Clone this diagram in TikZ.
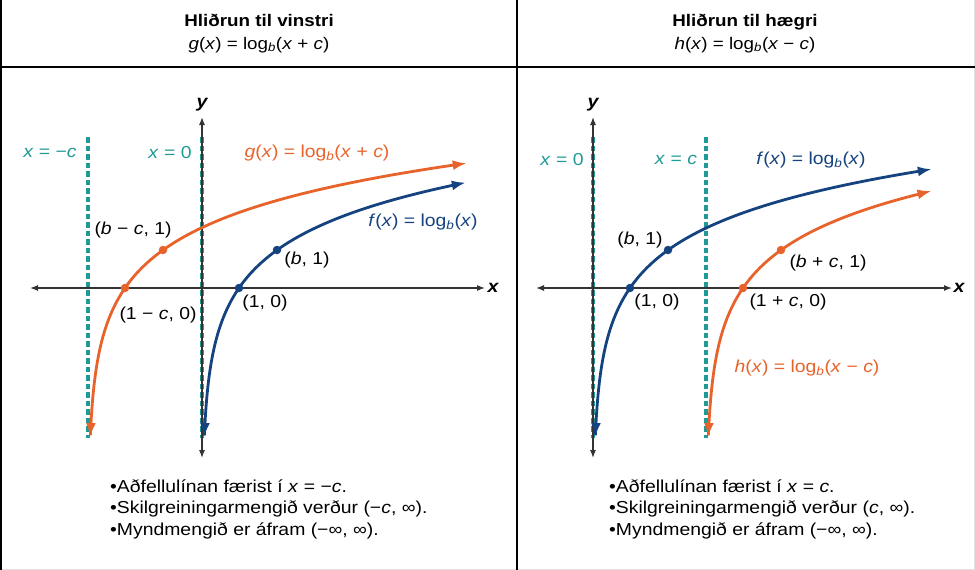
\documentclass[tikz,border=0pt]{standalone}
\usepackage{fontspec}
\setmainfont{Liberation Sans}[FakeStretch=1.12]
\usetikzlibrary{arrows.meta}
\definecolor{corange}{HTML}{E8632B}
\definecolor{cblue}{HTML}{15437F}
\definecolor{cteal}{HTML}{1F9A96}
\definecolor{caxis}{HTML}{333333}
\newcommand{\mi}[1]{\textit{#1}}
\begin{document}
\begin{tikzpicture}[x=1pt,y=-1pt,
  frame/.style={line width=2.4pt, draw=black},
  faint/.style={line width=1pt, draw=black!12},
  axisline/.style={line width=1.1pt, draw=caxis, {Latex[length=8pt,width=6pt]}-{Latex[length=8pt,width=6pt]}},
  asym/.style={line width=3.2pt, draw=cteal, dash pattern=on 5.5pt off 3pt},
  curveo/.style={line width=2.8pt, draw=corange, {Latex[length=14pt,width=10pt]}-{Latex[length=14pt,width=10pt]}},
  curveb/.style={line width=2.8pt, draw=cblue, {Latex[length=14pt,width=10pt]}-{Latex[length=14pt,width=10pt]}},
  dot/.style={circle, inner sep=0pt, minimum size=8.5pt},
  lbl/.style={font=\fontsize{17.3}{19}\selectfont, inner sep=0pt},
  ttl/.style={font=\fontsize{16.8}{20}\selectfont, inner sep=0pt, anchor=base},
  bul/.style={font=\fontsize{17.3}{21.5}\selectfont, align=left, anchor=base west, inner sep=0pt},
  axlbl/.style={font=\fontsize{17.5}{20}\selectfont\bfseries\itshape, inner sep=0pt}
]
\useasboundingbox (0,0) rectangle (975,570);
% frame
\coordinate (fl1) at (1.2,0); \coordinate (fl2) at (1.2,570);
\coordinate (fm1) at (517,0); \coordinate (fm2) at (517,570);
\coordinate (fh1) at (0,67); \coordinate (fh2) at (975,67);
\coordinate (fr1) at (974,0); \coordinate (fr2) at (974,569);
\coordinate (fb1) at (0,569); \coordinate (fb2) at (975,569);
\draw[faint] (fr1) -- (fr2);
\draw[faint] (fb1) -- (fb2);
\draw[frame] (fl1) -- (fl2);
\draw[frame] (fm1) -- (fm2);
\draw[frame] (fh1) -- (fh2);

% headers
\node[ttl] (hl1) at (259,27) {\bfseries Hliðrun til vinstri};
\node[ttl] (hl2) at (259,49) {\mi{g}(\mi{x}) = log\textsubscript{\mi{b}}(\mi{x} + \mi{c})};
\node[ttl] (hr1) at (745,27) {\bfseries Hliðrun til hægri};
\node[ttl] (hr2) at (745,49) {\mi{h}(\mi{x}) = log\textsubscript{\mi{b}}(\mi{x} − \mi{c})};

% ===== left panel =====
\coordinate (La1) at (88,137); \coordinate (La2) at (88,438);
\coordinate (Lb1) at (202,137); \coordinate (Lb2) at (202,438);
\draw[asym] (La1) -- (La2);
\draw[asym] (Lb1) -- (Lb2);
\coordinate (Lxl) at (30,288); \coordinate (Lxr) at (485,288);
\coordinate (Lyt) at (202,117); \coordinate (Lyb) at (202,458);
\draw[axisline] (Lxl) -- (Lxr);
\draw[axisline] (Lyb) -- (Lyt);
\node[axlbl] (Lylab) at (202,105) {y};
\node[axlbl] (Lxlab) at (493,288) {x};

\draw[curveo] plot[domain=-2.776:2.326, samples=150, variable=\t] ({88+37*exp(\t)},{288-53.67*\t});
\draw[curveb] plot[domain=-2.776:1.966, samples=150, variable=\t] ({202+37*exp(\t)},{288-53.67*\t});
\node[dot, fill=corange] (Lp1) at (125,288) {};
\node[dot, fill=corange] (Lp2) at (163,250) {};
\node[dot, fill=cblue] (Lp3) at (239,288) {};
\node[dot, fill=cblue] (Lp4) at (277,250) {};

\node[lbl, text=cteal] (Llc) at (50,153) {\mi{x} = −\mi{c}};
\node[lbl, text=cteal] (Ll0) at (170,153) {\mi{x} = 0};
\node[lbl, text=corange] (Llg) at (317,153) {\mi{g}(\mi{x}) = log\textsubscript{\mi{b}}(\mi{x} + \mi{c})};
\node[lbl, text=cblue] (Llf) at (423,222) {\mi{f}(\mi{x}) = log\textsubscript{\mi{b}}(\mi{x})};
\node[lbl] (Lt1) at (133,230) {(\mi{b} − \mi{c}, 1)};
\node[lbl] (Lt2) at (307,260) {(\mi{b}, 1)};
\node[lbl] (Lt3) at (158,315) {(1 − \mi{c}, 0)};
\node[lbl] (Lt4) at (265,303) {(1, 0)};

\node[bul] (Lbul) at (110,535) {•Aðfellulínan færist í \mi{x} = −\mi{c}.\\•Skilgreiningarmengið verður (−\mi{c}, ∞).\\•Myndmengið er áfram (−∞, ∞).};

% ===== right panel =====
\coordinate (Ra1) at (593,137); \coordinate (Ra2) at (593,438);
\coordinate (Rb1) at (706,137); \coordinate (Rb2) at (706,438);
\draw[asym] (Ra1) -- (Ra2);
\draw[asym] (Rb1) -- (Rb2);
\coordinate (Rxl) at (536,288); \coordinate (Rxr) at (952,288);
\coordinate (Ryt) at (593,117); \coordinate (Ryb) at (593,458);
\draw[axisline] (Rxl) -- (Rxr);
\draw[axisline] (Ryb) -- (Ryt);
\node[axlbl] (Rylab) at (593,105) {y};
\node[axlbl] (Rxlab) at (959,288) {x};

\draw[curveb] plot[domain=-2.776:2.215, samples=150, variable=\t] ({593+37*exp(\t)},{288-53.67*\t});
\draw[curveo] plot[domain=-2.776:1.808, samples=150, variable=\t] ({706+37*exp(\t)},{288-53.67*\t});
\node[dot, fill=cblue] (Rp1) at (630,288) {};
\node[dot, fill=cblue] (Rp2) at (668,250) {};
\node[dot, fill=corange] (Rp3) at (743,288) {};
\node[dot, fill=corange] (Rp4) at (781,250) {};

\node[lbl, text=cteal] (Rl0) at (562,160) {\mi{x} = 0};
\node[lbl, text=cteal] (Rlc) at (676,160) {\mi{x} = \mi{c}};
\node[lbl, text=cblue] (Rlf) at (811,160) {\mi{f}(\mi{x}) = log\textsubscript{\mi{b}}(\mi{x})};
\node[lbl, text=corange] (Rlh) at (807,368) {\mi{h}(\mi{x}) = log\textsubscript{\mi{b}}(\mi{x} − \mi{c})};
\node[lbl] (Rt1) at (640,240) {(\mi{b}, 1)};
\node[lbl] (Rt2) at (828,263) {(\mi{b} + \mi{c}, 1)};
\node[lbl] (Rt3) at (657,302) {(1, 0)};
\node[lbl] (Rt4) at (788,302) {(1 + \mi{c}, 0)};

\node[bul] (Rbul) at (609,535) {•Aðfellulínan færist í \mi{x} = \mi{c}.\\•Skilgreiningarmengið verður (\mi{c}, ∞).\\•Myndmengið er áfram (−∞, ∞).};
\end{tikzpicture}
\end{document}
